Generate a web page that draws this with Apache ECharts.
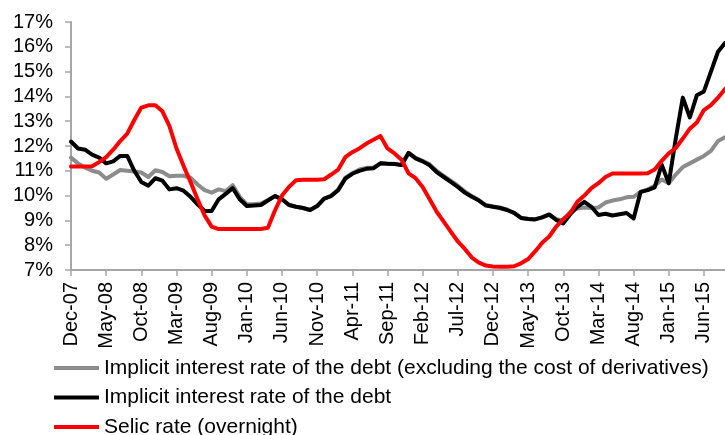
<!DOCTYPE html>
<html>
<head>
<meta charset="utf-8">
<script src="https://cdn.jsdelivr.net/npm/echarts@6/dist/echarts.min.js"></script>
<style>
  html, body { margin: 0; padding: 0; background: #fff; }
  #chart { width: 725px; height: 435px; }
</style>
</head>
<body>
<div id="chart"></div>
<script>
// Monthly observations, Dec-2007 through Sep-2015
const monthNames = ['Jan','Feb','Mar','Apr','May','Jun','Jul','Aug','Sep','Oct','Nov','Dec'];
const months = [];
for (let y = 2007, m = 11; y < 2015 || (y === 2015 && m <= 8); ) {
  months.push(monthNames[m] + '-' + String(y % 100).padStart(2, '0'));
  m++; if (m === 12) { m = 0; y++; }
}

// Implicit interest rate of the debt, excluding the cost of derivatives (% p.a.)
const implicitExDerivatives = [
  11.53, 11.30, 11.13, 11.00, 10.93, 10.68, 10.85, 11.03, 11.00, 10.97,
  10.93, 10.75, 11.02, 10.95, 10.78, 10.80, 10.80, 10.72, 10.45, 10.22,
  10.12, 10.25, 10.18, 10.42, 9.95, 9.65, 9.65, 9.68, 9.82, 9.99,
  9.86, 9.63, 9.55, 9.50, 9.42, 9.58, 9.88, 10.00, 10.25, 10.72,
  10.90, 11.05, 11.12, 11.13, 11.30, 11.28, 11.28, 11.23, 11.72, 11.52,
  11.40, 11.26, 11.00, 10.80, 10.60, 10.40, 10.17, 9.98, 9.82, 9.62,
  9.56, 9.52, 9.44, 9.30, 9.10, 9.07, 9.05, 9.12, 9.22, 9.05,
  9.00, 9.35, 9.48, 9.52, 9.50, 9.52, 9.72, 9.80, 9.85, 9.93,
  9.95, 10.15, 10.25, 10.40, 10.65, 10.50, 10.85, 11.15, 11.30, 11.45,
  11.60, 11.80, 12.20, 12.35
];

// Implicit interest rate of the debt (% p.a.)
const implicitRate = [
  12.18, 11.90, 11.85, 11.65, 11.53, 11.30, 11.38, 11.60, 11.60, 11.00,
  10.55, 10.40, 10.70, 10.60, 10.25, 10.30, 10.20, 9.95, 9.65, 9.38,
  9.38, 9.85, 10.07, 10.30, 9.85, 9.58, 9.60, 9.62, 9.80, 9.98,
  9.85, 9.62, 9.55, 9.50, 9.42, 9.58, 9.88, 9.98, 10.22, 10.68,
  10.88, 11.00, 11.08, 11.10, 11.30, 11.28, 11.27, 11.23, 11.72, 11.50,
  11.38, 11.22, 10.95, 10.75, 10.55, 10.35, 10.12, 9.95, 9.80, 9.60,
  9.55, 9.50, 9.42, 9.30, 9.10, 9.06, 9.04, 9.12, 9.24, 9.02,
  8.88, 9.25, 9.55, 9.75, 9.55, 9.22, 9.27, 9.20, 9.25, 9.30,
  9.08, 10.15, 10.22, 10.33, 11.25, 10.50, 12.30, 13.95, 13.15, 14.05,
  14.20, 15.00, 15.80, 16.15
];

// Selic rate, overnight (% p.a.)
const selicRate = [
  11.17, 11.17, 11.17, 11.18, 11.35, 11.55, 11.85, 12.20, 12.50, 13.05,
  13.55, 13.64, 13.64, 13.40, 12.80, 11.90, 11.20, 10.55, 9.85, 9.20,
  8.75, 8.65, 8.65, 8.65, 8.65, 8.65, 8.65, 8.65, 8.70, 9.40,
  10.00, 10.35, 10.62, 10.64, 10.64, 10.64, 10.66, 10.85, 11.05, 11.55,
  11.75, 11.90, 12.10, 12.25, 12.40, 11.90, 11.70, 11.45, 10.90, 10.70,
  10.35, 9.85, 9.35, 8.95, 8.55, 8.15, 7.85, 7.50, 7.30, 7.18,
  7.14, 7.13, 7.13, 7.15, 7.27, 7.44, 7.75, 8.10, 8.35, 8.75,
  9.05, 9.30, 9.75, 10.00, 10.30, 10.50, 10.75, 10.89, 10.89, 10.89,
  10.89, 10.89, 10.90, 11.05, 11.40, 11.70, 11.92, 12.30, 12.70, 12.95,
  13.45, 13.65, 13.95, 14.30
];

const seriesNames = [
  'Implicit interest rate of the debt (excluding the cost of derivatives)',
  'Implicit interest rate of the debt',
  'Selic rate (overnight)'
];

const FONT = '"Liberation Sans", Arial, sans-serif';
const axisGrey = '#a6a6a6';

const chart = echarts.init(document.getElementById('chart'), null, { renderer: 'canvas' });

function lineSeries(name, data, color) {
  return {
    name: name,
    type: 'line',
    data: data,
    symbol: 'none',
    smooth: false,
    lineStyle: { color: color, width: 4, join: 'round', cap: 'round' },
    itemStyle: { color: color },
    emphasis: { disabled: true },
    animation: false
  };
}

chart.setOption({
  animation: false,
  backgroundColor: '#ffffff',
  grid: { left: 71, right: -3, top: 22, bottom: 165, containLabel: false },
  legend: {
    orient: 'vertical',
    left: 49,
    top: 352,
    height: 120,
    icon: 'rect',
    itemWidth: 45,
    itemHeight: 4,
    itemGap: 7.5,
    textStyle: { fontFamily: FONT, fontSize: 21, color: '#000', lineHeight: 22 },
    data: seriesNames
  },
  xAxis: {
    type: 'category',
    data: months,
    boundaryGap: false,
    axisLine: { lineStyle: { color: axisGrey, width: 2 } },
    axisTick: { show: true, interval: 4, length: 6, inside: false, lineStyle: { color: axisGrey, width: 1.5 } },
    axisLabel: {
      interval: 4,
      rotate: 90,
      margin: 12,
      fontFamily: FONT,
      fontSize: 20,
      color: '#000'
    },
    splitLine: { show: false }
  },
  yAxis: {
    type: 'value',
    min: 7,
    max: 17,
    interval: 1,
    axisLine: { show: true, lineStyle: { color: axisGrey, width: 2 } },
    axisTick: { show: true, length: 6, lineStyle: { color: axisGrey, width: 1.5 } },
    axisLabel: {
      formatter: v => v + '%',
      margin: 18,
      fontFamily: FONT,
      fontSize: 20,
      color: '#000'
    },
    splitLine: { show: false }
  },
  series: [
    lineSeries(seriesNames[0], implicitExDerivatives, '#8c8c8c'),
    lineSeries(seriesNames[1], implicitRate, '#000000'),
    lineSeries(seriesNames[2], selicRate, '#ff0000')
  ]
});
</script>
</body>
</html>
